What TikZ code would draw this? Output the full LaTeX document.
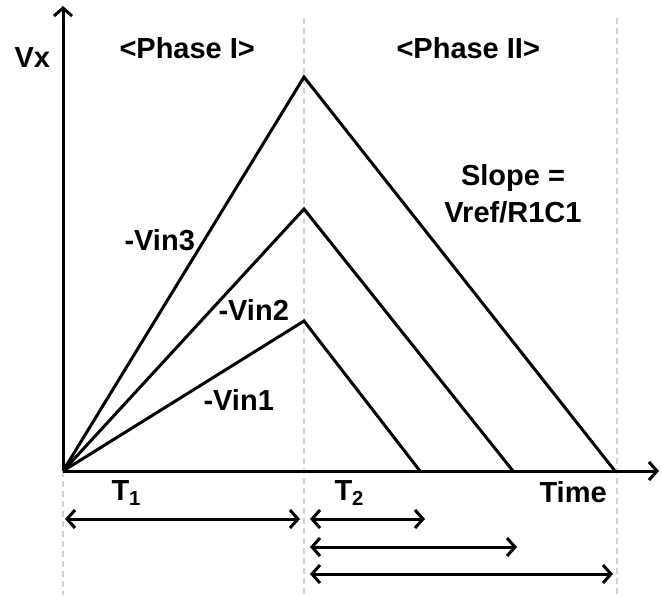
\documentclass[tikz,border=0pt]{standalone}
\usepackage{fontspec}
\setmainfont{Liberation Sans}
\usetikzlibrary{arrows.meta}
\usetikzlibrary{math}

\tikzset{
lbl/.style={font=\fontsize{29}{35}\selectfont\bfseries, inner sep=0pt, anchor=base west},
guide/.style={line width=2.5pt, gray!35, dash pattern=on 6pt off 4pt},
>={Straight Barb[length=8pt, width=18pt]}
}

\begin{document}
\begin{tikzpicture}[x=1pt, y=-1pt, line width=3pt]
\tikzmath{
\xa=63; \xb=304; \xc=617; \ya=471;
}

\useasboundingbox (0,0) rectangle (662,595);

% phase borders
\draw[guide] (\xa,\ya) -- (\xa,595);
\draw[guide] (\xb,18) -- (\xb,595);
\draw[guide] (\xc,18) -- (\xc,595);

% axes
\coordinate (O) at (\xa,\ya);
\draw[->] (O) -- (\xa,6);
\draw[->] (O) -- (659,\ya);

% ramps
\coordinate (p1) at (\xb,321); \coordinate (e1) at (420,\ya);
\coordinate (p2) at (\xb,209); \coordinate (e2) at (513,\ya);
\coordinate (p3) at (\xb,77);  \coordinate (e3) at (615,\ya);
\draw (O) -- (p1) -- (e1);
\draw (O) -- (p2) -- (e2);
\draw (O) -- (p3) -- (e3);

\node[lbl] (vx) at (13,67) {Vx};
\node[lbl] (ph1) at (118,58) {<Phase I>};
\node[lbl] (ph2) at (395,58) {<Phase II>};
\node[lbl] (vin3) at (123,250) {-Vin3};
\node[lbl] (vin2) at (217,320) {-Vin2};
\node[lbl] (vin1) at (202,410) {-Vin1};
\node[lbl, anchor=base] (slope) at (513,185) {Slope =};
\node[lbl, anchor=base] (ratio) at (513,222) {Vref/R1C1};
\node[lbl] (t1) at (110,500) {T\textsubscript{1}};
\node[lbl] (t2) at (333,500) {T\textsubscript{2}};
\node[lbl] (time) at (538,502) {Time};

% durations
\draw[<->] (\xa+2,519) -- (\xb-4,519);
\draw[<->] (\xb+6,519) -- (425,519);
\draw[<->] (\xb+6,547) -- (517,547);
\draw[<->] (\xb+6,574) -- (613,574);
\end{tikzpicture}
\end{document}
